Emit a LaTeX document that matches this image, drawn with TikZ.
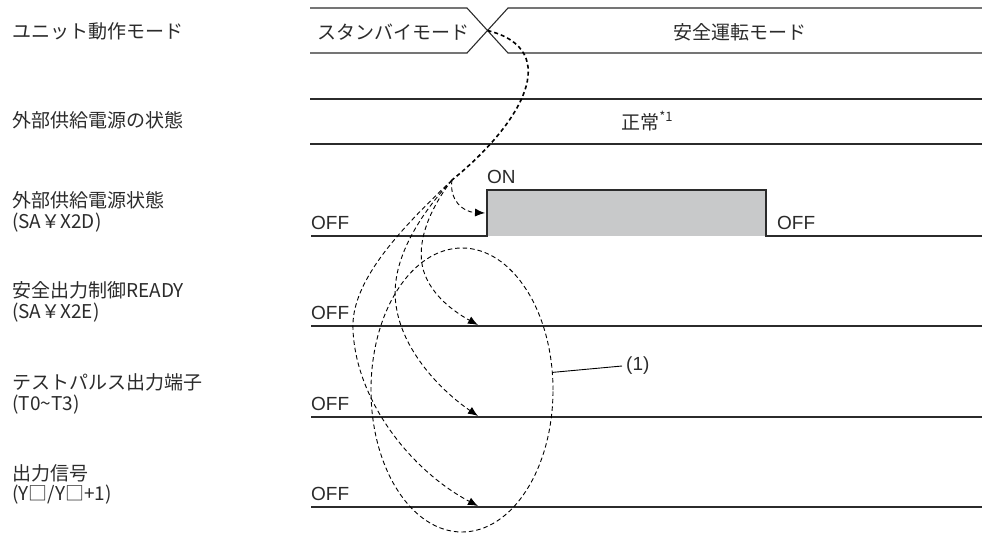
\documentclass[tikz,border=0pt]{standalone}
\usepackage{fontspec}
\setmainfont{Noto Sans CJK JP}
\newfontfamily\latinf{Liberation Sans}
\usetikzlibrary{arrows.meta,shapes.geometric}
\definecolor{ink}{HTML}{2B2B2B}
\definecolor{pulsegray}{HTML}{C8C9CA}
\begin{document}
\begin{tikzpicture}[x={(1pt,0pt)},y={(0pt,-1pt)},
  lane/.style={draw=ink,line width=1.1pt},
  lbl/.style={anchor=base west,inner sep=0pt,text=ink,font=\fontsize{19}{22}\selectfont},
  sig/.style={anchor=base west,inner sep=0pt,text=ink,font=\latinf\fontsize{19}{22}\selectfont},
  mid/.style={anchor=base,inner sep=0pt,text=ink,font=\fontsize{19}{22}\selectfont},
  boldDashed/.style={draw=black,line width=1.6pt,dash pattern=on 4pt off 3pt},
  fineDashed/.style={draw=black,line width=0.9pt,dash pattern=on 4.5pt off 3pt},
  tipped/.style={-{Latex[length=10pt,width=8pt]}}
]
\useasboundingbox (0,0) rectangle (982,533);

% lane 1: unit operation mode
\draw[lane] (310,8) -- (467,8) -- (508,53) -- (982,53);
\draw[lane] (310,53) -- (467,53) -- (508,8) -- (982,8);
\node[mid] (standby) at (393,39) {スタンバイモード};
\node[mid] (safemode) at (740,39) {安全運転モード};

% lane 2
\draw[lane] (310,99) -- (982,99);
\draw[lane] (310,144) -- (982,144);
\node[mid] (normal) at (647,129) {正常\raisebox{0.4em}{\fontsize{13}{13}\selectfont *1}};

% lane 3
\fill[pulsegray] (487,190) rectangle (766,236);
\draw[lane] (311,236) -- (487,236) -- (487,190) -- (766,190) -- (766,236) -- (982,236);
\node[sig] (off3) at (311,229) {OFF};
\node[sig] (on3) at (487,183) {ON};
\node[sig] (off3r) at (777,229) {OFF};

% lanes 4-6
\draw[lane] (311,326) -- (982,326);
\draw[lane] (311,417) -- (982,417);
\draw[lane] (311,507) -- (982,507);
\node[sig] (off4) at (311,319) {OFF};
\node[sig] (off5) at (311,410) {OFF};
\node[sig] (off6) at (311,500) {OFF};

% left labels
\node[lbl] (l1) at (12,38) {ユニット動作モード};
\node[lbl] (l2) at (12,127) {外部供給電源の状態};
\node[lbl] (l3a) at (12,207) {外部供給電源状態};
\node[lbl] (l3b) at (12,228) {(SA￥X2D)};
\node[lbl] (l4a) at (12,297) {安全出力制御READY};
\node[lbl] (l4b) at (12,318) {(SA￥X2E)};
\node[lbl] (l5a) at (12,389) {テストパルス出力端子};
\node[lbl] (l5b) at (12,410) {(T0\textasciitilde T3)};
\node[lbl] (l6a) at (12,480) {出力信号};
\node[lbl] (l6b) at (12,500) {(Y□/Y□+1)};

% dashed timing curves
\coordinate (cross) at (487.5,30.5);
\coordinate (fan) at (452,180);
\coordinate (t3) at (485,213);
\coordinate (t4) at (478,325);
\coordinate (t5) at (478,416);
\coordinate (t6) at (478,506);
\draw[boldDashed] (cross) .. controls (565,50) and (520,125) .. (fan);
\draw[fineDashed,tipped] (fan) .. controls (449,199) and (462,212) .. (t3);
\draw[fineDashed,tipped] (fan) .. controls (425,215) and (415,250) .. (425,275)
  .. controls (435,300) and (460,315) .. (t4);
\draw[fineDashed,tipped] (fan) .. controls (415,220) and (390,265) .. (396,305)
  .. controls (402,350) and (440,390) .. (t5);
\draw[fineDashed,tipped] (fan) .. controls (405,225) and (350,280) .. (353,330)
  .. controls (356,400) and (410,470) .. (t6);

% grouping ellipse with label (1)
\node[ellipse,fineDashed,minimum width=182pt,minimum height=284pt,inner sep=0pt] (loop) at (462,390) {};
\node[anchor=west,inner sep=4pt,text=ink,font=\latinf\fontsize{19}{22}\selectfont] (one) at (622,366) {(1)};
\draw[draw=black,line width=0.9pt] (loop.11) -- (one.west);
\end{tikzpicture}
\end{document}
